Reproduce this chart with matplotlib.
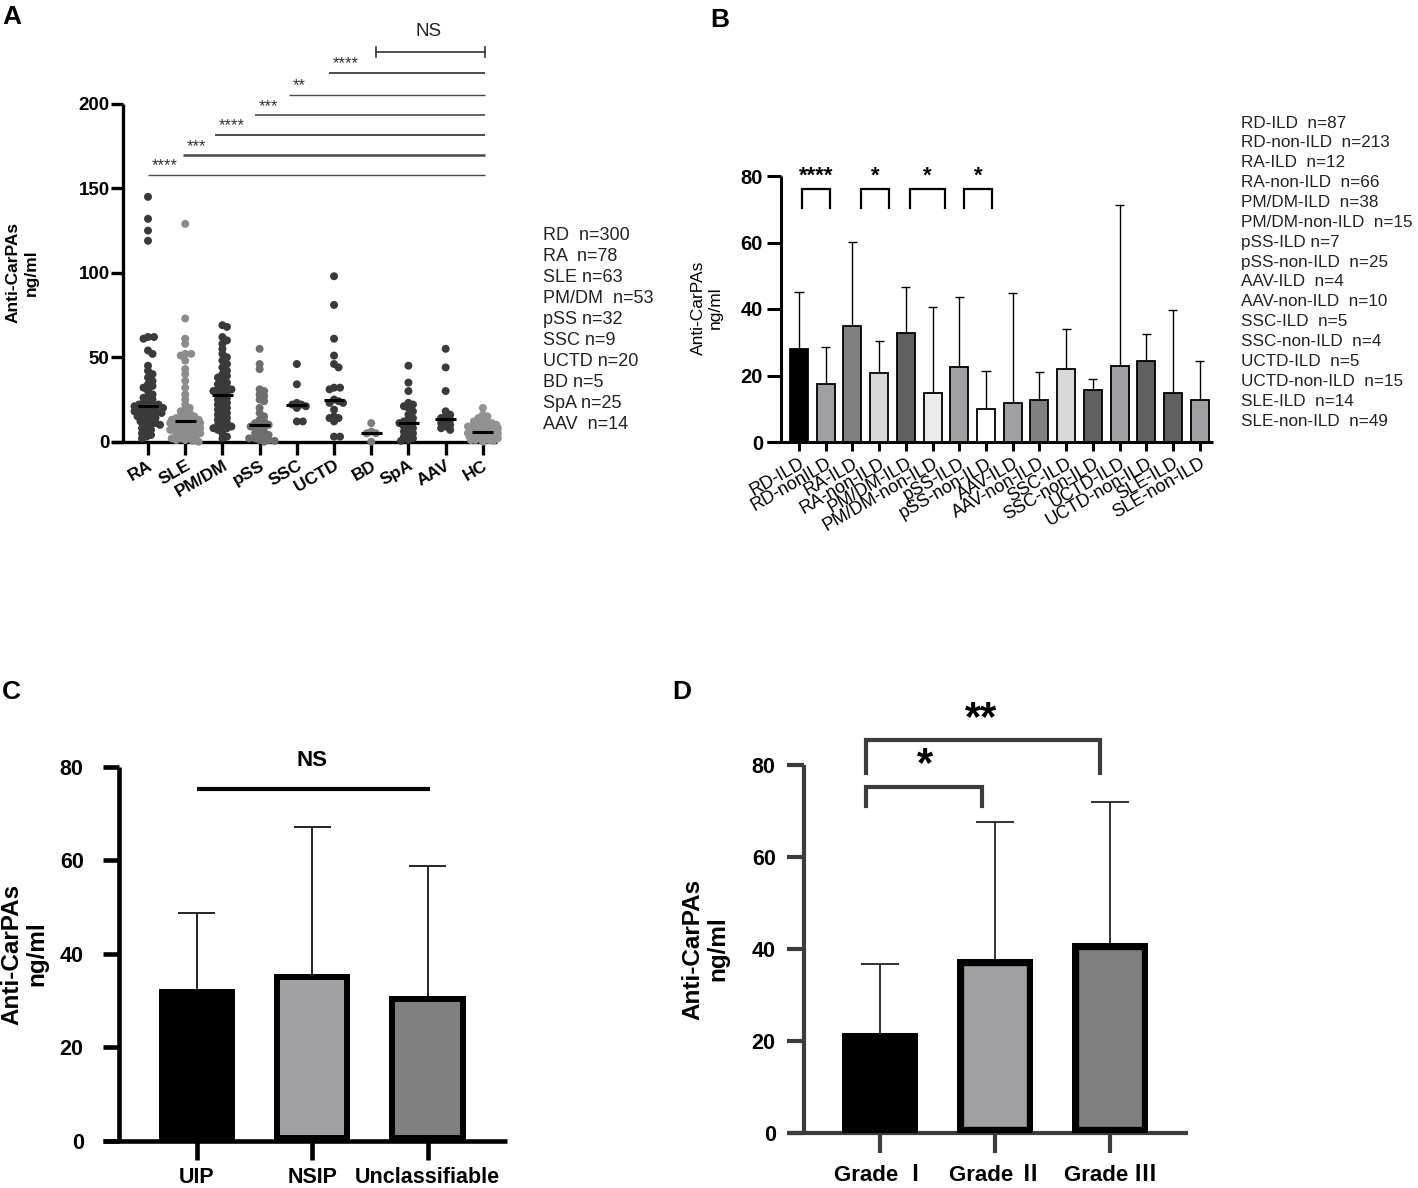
import numpy as np
import matplotlib
matplotlib.use('Agg')
import matplotlib.pyplot as plt

plt.rcParams['font.family'] = ['Liberation Sans', 'Noto Sans CJK SC', 'DejaVu Sans']

# ---------------- data ----------------
# Panel A (scatter)
a_groups = ['RA', 'SLE', 'PM/DM', 'pSS', 'SSC', 'UCTD', 'BD', 'SpA', 'AAV', 'HC']
a_RA = [145, 132, 125, 119, 62, 62, 61, 54, 52, 45, 42, 40, 38, 36, 34, 33, 32, 30, 28, 27, 26,
        25, 24, 23, 22, 22, 22, 21, 21, 20, 20, 20, 19, 19, 18, 18, 17, 17, 16, 16, 15, 15, 14,
        13, 12, 12, 11, 10, 10, 9, 8, 7, 6, 5, 4, 3, 2]
a_SLE = [129, 73, 61, 58, 52, 52, 51, 48, 43, 40, 36, 32, 28, 25, 22, 20, 19, 18, 17, 16, 15, 15,
         14, 14, 13, 13, 13, 12, 12, 12, 12, 11, 11, 11, 10, 10, 10, 9, 9, 9, 8, 8, 8, 7, 7, 7,
         6, 6, 5, 5, 4, 4, 3, 3, 2, 2, 1, 1, 0.5, 0]
a_PMDM = [69, 68, 62, 60, 58, 55, 52, 50, 48, 46, 44, 42, 40, 39, 38, 36, 35, 34, 33, 32, 31, 31,
          30, 30, 29, 28, 27, 26, 25, 24, 23, 22, 21, 20, 19, 18, 17, 16, 15, 14, 13, 12, 11, 10,
          9, 9, 8, 8, 7, 5, 3, 2]
a_pSS = [55, 46, 43, 31, 30, 28, 27, 25, 24, 20, 17, 15, 13, 12, 11, 10, 10, 9, 9, 8, 7, 6, 5,
         4, 4, 3, 2, 2, 1, 1, 0.5, 0]
a_SSC = [46, 34, 23, 22, 22, 21, 20, 12, 12]
a_UCTD = [98, 81, 61, 51, 46, 44, 32, 32, 31, 25, 24, 23, 23, 19, 15, 14, 14, 12, 3, 3]
a_BD = [11, 6, 5, 5, 0]
a_SpA = [45, 35, 30, 23, 22, 21, 20, 18, 16, 14, 13, 12, 11, 11, 10, 9, 8, 7, 6, 5, 4, 3, 2, 1, 0.5]
a_AAV = [55, 44, 30, 18, 16, 15, 14, 13, 12, 11, 10, 9, 8, 7]
a_HC = [20, 16, 15, 14, 13, 12, 12, 11, 11, 10, 10, 9, 9, 9, 8, 8, 8, 7, 7, 7, 6, 6, 6, 6, 5, 5,
        5, 5, 4, 4, 4, 3, 3, 3, 2, 2, 2, 1, 1, 1, 0.5, 0]
a_values = [a_RA, a_SLE, a_PMDM, a_pSS, a_SSC, a_UCTD, a_BD, a_SpA, a_AAV, a_HC]
a_colors = ['#3a3a3a', '#8c8c8c', '#3a3a3a', '#6e6e6e', '#3a3a3a', '#3a3a3a', '#7c7c7c',
            '#3a3a3a', '#3a3a3a', '#929292']
a_sig_labels = ['****', '***', '****', '***', '**', '****']
a_legend = ['RD  n=300', 'RA  n=78', 'SLE n=63', 'PM/DM  n=53', 'pSS n=32', 'SSC n=9',
            'UCTD n=20', 'BD n=5', 'SpA n=25', 'AAV  n=14']

# Panel B
b_labels = ['RD-ILD', 'RD-nonILD', 'RA-ILD', 'RA-non-ILD', 'PM/DM-ILD', 'PM/DM-non-ILD',
            'pSS-ILD', 'pSS-non-ILD', 'AAV-ILD', 'AAV-non-ILD', 'SSC-ILD', 'SSC-non-ILD',
            'UCTD-ILD', 'UCTD-non-ILD', 'SLE-ILD', 'SLE-non-ILD']
b_means = [27.9, 17.3, 35.0, 20.7, 32.7, 14.8, 22.5, 9.8, 11.8, 12.6, 22.0, 15.7, 22.9, 24.3, 14.6, 12.6]
b_upper = [45.1, 28.5, 60.3, 30.5, 46.6, 40.7, 43.6, 21.3, 44.9, 21.2, 34.0, 19.0, 71.3, 32.5, 39.7, 24.3]
b_colors = ['#000000', '#a0a0a4', '#808080', '#d9d9d9', '#606060', '#ebebeb', '#a0a0a4', '#ffffff',
            '#a0a0a4', '#808080', '#d9d9d9', '#606060', '#a0a0a4', '#606060', '#606060', '#a0a0a4']
b_sig_labels = ['****', '*', '*', '*']
b_legend = ['RD-ILD  n=87', 'RD-non-ILD  n=213', 'RA-ILD  n=12', 'RA-non-ILD  n=66',
            'PM/DM-ILD  n=38', 'PM/DM-non-ILD  n=15', 'pSS-ILD n=7', 'pSS-non-ILD  n=25',
            'AAV-ILD  n=4', 'AAV-non-ILD  n=10', 'SSC-ILD  n=5', 'SSC-non-ILD  n=4',
            'UCTD-ILD  n=5', 'UCTD-non-ILD  n=15', 'SLE-ILD  n=14', 'SLE-non-ILD  n=49']

# Panel C
c_labels = ['UIP', 'NSIP', 'Unclassifiable']
c_means = [32.4, 35.7, 31.0]
c_upper = [48.6, 67.2, 58.8]
c_colors = ['#000000', '#a0a0a4', '#808080']

# Panel D
d_labels = ['Grade Ⅰ', 'Grade Ⅱ', 'Grade Ⅲ']
d_means = [21.7, 37.9, 41.4]
d_upper = [36.8, 67.7, 72.0]
d_colors = ['#000000', '#a0a0a4', '#808080']

# ---------------- figure ----------------
W, H = 1418, 1188
fig = plt.figure(figsize=(W / 100, H / 100), dpi=100)


def px_rect(l, t, r, b):
    return [l / W, 1 - b / H, (r - l) / W, (b - t) / H]


def fx(x):
    return x / W


def fy(y):
    return 1 - y / H


def swarm_offsets(vals, xs, ys, d=8.0, overlap=0.6, step=1.5, maxw=15.0):
    vals = np.asarray(vals, float)
    order = np.argsort(vals)[::-1]
    placed = []
    offs = np.zeros(len(vals))
    nsteps = int(maxw / step)
    for idx in order:
        y = vals[idx] * ys
        best_c, best_d = 0.0, -1.0
        for k in range(0, 2 * nsteps + 1):
            c = ((k + 1) // 2) * step * (1 if k % 2 else -1)
            mind = 1e9
            for (qx, qy) in placed:
                if abs(qy - y) < d:
                    dd = (qx - c) ** 2 + (qy - y) ** 2
                    if dd < mind:
                        mind = dd
            if mind >= (d * overlap) ** 2:
                best_c = c
                break
            if mind > best_d:
                best_d, best_c = mind, c
        placed.append((best_c, y))
        offs[idx] = best_c / xs
    return offs


def style_axes(ax, spine_x, lw, color='black'):
    for s in ['top', 'right']:
        ax.spines[s].set_visible(False)
    ax.spines['left'].set_position(('data', spine_x))
    for s in ['left', 'bottom']:
        ax.spines[s].set_linewidth(lw)
        ax.spines[s].set_color(color)
        ax.spines[s].set_capstyle('butt')


# ---------- Panel A ----------
axA = fig.add_axes(px_rect(111.7, 104, 497, 441.7))
axA.set_xlim(-0.976, 9.38)
axA.set_ylim(0, 200)
style_axes(axA, -0.664, 2.4)
xs_px, ys_px = 37.2, 337.7 / 200
for i, (vals, col) in enumerate(zip(a_values, a_colors)):
    offs = swarm_offsets(vals, xs_px, ys_px)
    axA.scatter(i + offs, vals, s=33, color=col, edgecolors='none', zorder=3, clip_on=False)
    med = float(np.median(vals))
    axA.hlines(med, i - 0.28, i + 0.28, color='black', lw=2.2, zorder=4)
axA.set_yticks([0, 50, 100, 150, 200])
axA.set_yticklabels(['0', '50', '100', '150', '200'], fontsize=13.5, fontweight='bold')
axA.set_xticks(range(len(a_groups)))
axA.set_xticklabels(a_groups, rotation=30, ha='right', rotation_mode='anchor',
                    fontsize=12.5, fontweight='bold')
axA.tick_params(axis='y', width=2.4, length=8.4, pad=1.5)
axA.tick_params(axis='x', width=2.4, length=9.5, pad=2)

sig_y = [158.1, 169.6, 181.6, 193.2, 205.6, 218.2]
sig_start = [0, 0.95, 1.8, 2.87, 3.79, 4.87]
sig_lw = [1.0, 1.8, 1.4, 1.2, 1.0, 1.4]
for yv, x0, lab, lw in zip(sig_y, sig_start, a_sig_labels, sig_lw):
    axA.plot([x0, 9.06], [yv, yv], color='#4a4a4a', lw=lw, clip_on=False, solid_capstyle='butt')
    axA.text(x0 + 0.1, yv + 1.0, lab, fontsize=12, color='#333333', ha='left', va='bottom',
             clip_on=False)
ns_y = 231.0
axA.plot([6.13, 9.06], [ns_y, ns_y], color='#333333', lw=1.2, clip_on=False)
for xe in [6.13, 9.06]:
    axA.plot([xe, xe], [ns_y - 3, ns_y + 3], color='#333333', lw=1.2, clip_on=False)
axA.text(7.55, ns_y + 7, 'NS', fontsize=13.5, ha='center', va='bottom', color='#222222',
         clip_on=False)

fig.text(fx(22), fy(272.8), 'Anti-CarPAs\nng/ml', rotation=90, ha='center', va='center',
         fontsize=12.5, fontweight='bold', linespacing=1.25, multialignment='center')
for k, s in enumerate(a_legend):
    fig.text(fx(543), fy(235 + k * 21.1), s, fontsize=13, ha='left', va='center', color='#222222')

# ---------- Panel B ----------
axB = fig.add_axes(px_rect(767.3, 176, 1213, 442))
axB.set_xlim(-1.187, 15.5)
axB.set_ylim(0, 80)
style_axes(axB, -0.674, 2.2)
xb = np.arange(len(b_labels))
b_means_a = np.array(b_means)
b_upper_a = np.array(b_upper)
axB.vlines(xb, b_means_a, b_upper_a, color='black', lw=1.0, zorder=2)
axB.hlines(b_upper_a, xb - 0.17, xb + 0.17, color='black', lw=1.0, zorder=2)
axB.bar(xb, b_means_a, width=0.674, color=b_colors, edgecolor='black', linewidth=1.3, zorder=3)
axB.set_yticks([0, 20, 40, 60, 80])
axB.set_yticklabels(['0', '20', '40', '60', '80'], fontsize=14.5, fontweight='bold')
axB.set_xticks(xb)
axB.set_xticklabels(b_labels, rotation=30, ha='right', rotation_mode='anchor', fontsize=13)
axB.tick_params(axis='y', width=2.2, length=9.9, pad=3)
axB.tick_params(axis='x', width=2.2, length=6.5, pad=3)
b_brackets = [(0.13, 1.15), (2.31, 3.37), (4.14, 5.47), (6.18, 7.22)]
b_star_x = [0.64, 2.86, 4.81, 6.73]
for (x0, x1), sx, lab in zip(b_brackets, b_star_x, b_sig_labels):
    axB.plot([x0, x0, x1, x1], [70.3, 76, 76, 70.3], color='black', lw=1.6, clip_on=False,
             solid_joinstyle='miter')
    axB.text(sx, 80.0, lab, fontsize=16, fontweight='bold', ha='center', va='center',
             clip_on=False)
fig.text(fx(707), fy(308), 'Anti-CarPAs\nng/ml', rotation=90, ha='center', va='center',
         fontsize=12.5, linespacing=1.15, multialignment='center')
for k, s in enumerate(b_legend):
    fig.text(fx(1241), fy(123 + k * 19.87), s, fontsize=12.3, ha='left', va='center',
             color='#222222')


# ---------- Panels C & D ----------
def inner_bars(ax, x, means, colors, edge_lws, width, ecolor='black'):
    bars = ax.bar(x, means, width=width, color=colors, edgecolor=ecolor, zorder=3)
    for b, lw in zip(bars, edge_lws):
        b.set_linewidth(lw)
        b.set_clip_path(b)
    return bars


axC = fig.add_axes(px_rect(102.7, 766.7, 506.7, 1140.7))
axC.set_xlim(-0.815, 2.686)
axC.set_ylim(0, 80)
style_axes(axC, -0.673, 3.3)
xc = np.arange(len(c_labels))
axC.vlines(xc, c_means, c_upper, color='black', lw=1.2, zorder=2)
axC.hlines(c_upper, xc - 0.16, xc + 0.16, color='black', lw=1.2, zorder=2)
inner_bars(axC, xc, c_means, c_colors, [0, 8.6, 8.6], 0.66)
axC.set_yticks([0, 20, 40, 60, 80])
axC.set_yticklabels(['0', '20', '40', '60', '80'], fontsize=15.5, fontweight='bold')
axC.set_xticks(xc)
axC.set_xticklabels(c_labels, fontsize=15.5, fontweight='bold')
axC.tick_params(axis='y', width=3.3, length=11.5, pad=14)
axC.tick_params(axis='x', width=3.3, length=14, pad=5)
axC.plot([0.005, 2.02], [75.2, 75.2], color='black', lw=3.0, clip_on=False, solid_capstyle='butt')
axC.text(1.0, 81.3, 'NS', fontsize=16, fontweight='bold', ha='center', va='center', clip_on=False)
fig.text(fx(24), fy(954), 'Anti-CarPAs\nng/ml', rotation=90, ha='center', va='center',
         fontsize=17.5, fontweight='bold', linespacing=1.1, multialignment='center')

dcol = '#3c3c3c'
axD = fig.add_axes(px_rect(786.7, 765, 1188.3, 1133.3))
axD.set_xlim(-0.815, 2.683)
axD.set_ylim(0, 80)
style_axes(axD, -0.662, 3.0, dcol)
xd = np.arange(len(d_labels))
axD.vlines(xd, d_means, d_upper, color='#222222', lw=1.3, zorder=2)
axD.hlines(d_upper, xd - 0.166, xd + 0.166, color='#222222', lw=1.3, zorder=2)
inner_bars(axD, xd, d_means, d_colors, [0, 9.6, 9.6], 0.66)
axD.set_yticks([0, 20, 40, 60, 80])
axD.set_yticklabels(['0', '20', '40', '60', '80'], fontsize=15.5, fontweight='bold')
axD.set_xticks(xd)
axD.set_xticklabels(d_labels, fontsize=16, fontweight='bold')
axD.tick_params(axis='y', width=3.0, length=12.6, pad=8, color=dcol)
axD.tick_params(axis='x', width=3.0, length=14.4, pad=8.5, color=dcol)
axD.plot([-0.125, -0.125, 0.89, 0.89], [71.1, 75.3, 75.3, 71.1], color=dcol, lw=3.0,
         clip_on=False, solid_joinstyle='miter')
axD.plot([-0.125, -0.125, 1.91, 1.91], [78.2, 85.4, 85.4, 78.2], color=dcol, lw=3.0,
         clip_on=False, solid_joinstyle='miter')
axD.text(0.39, 80.0, '*', fontsize=30, fontweight='bold', ha='center', va='center', clip_on=False)
axD.text(0.88, 90.0, '**', fontsize=30, fontweight='bold', ha='center', va='center', clip_on=False)
fig.text(fx(705), fy(949), 'Anti-CarPAs\nng/ml', rotation=90, ha='center', va='center',
         fontsize=17.5, fontweight='bold', linespacing=1.1, multialignment='center')

# panel letters
for lab, (x, y) in zip(['A', 'B', 'C', 'D'], [(2, 5), (710, 8), (2, 680), (672, 680)]):
    fig.text(fx(x), fy(y), lab, fontsize=19, fontweight='bold', ha='left', va='top')

fig.savefig('out.png', dpi=100)
